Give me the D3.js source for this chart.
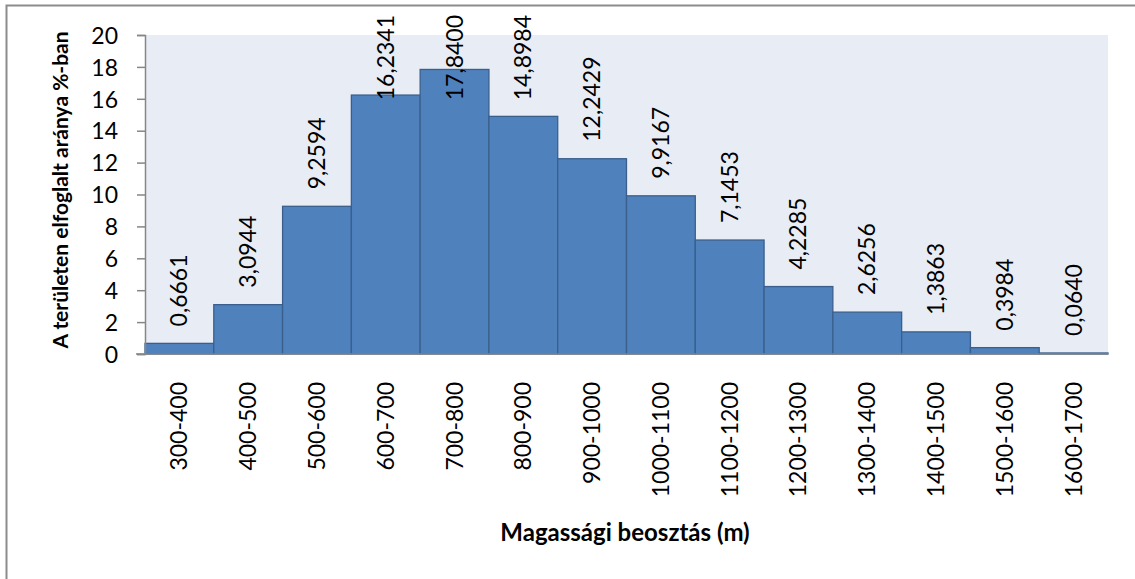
<html>

<head>
  <meta charset="utf-8">
  <title>magassagi beosztas</title>
</head>
<style>
  body { margin: 0; background: #fff; }
  text { font-family: Lato, "Open Sans", sans-serif; fill: #000; }
</style>

<body>
  <div id="chart"></div>
</body>
<script src="https://d3js.org/d3.v7.min.js"></script>
<script>

  // adatok
  const categories = ["300-400", "400-500", "500-600", "600-700", "700-800", "800-900", "900-1000",
    "1000-1100", "1100-1200", "1200-1300", "1300-1400", "1400-1500", "1500-1600", "1600-1700"]
  const values = [0.6661, 3.0944, 9.2594, 16.2341, 17.8400, 14.8984, 12.2429,
    9.9167, 7.1453, 4.2285, 2.6256, 1.3863, 0.3984, 0.0640]
  const yTicks = [0, 2, 4, 6, 8, 10, 12, 14, 16, 18, 20]

  const width = 1135
  const height = 579
  const plot = { left: 145, right: 1108, top: 35, bottom: 354 }
  const fs = 23

  const svg = d3.select("#chart")
    .append("svg")
    .attr("width", width)
    .attr("height", height)

  // keret
  svg.append("rect")
    .attr("x", 6.5).attr("y", 5.5)
    .attr("width", width).attr("height", height)
    .attr("fill", "#fff")
    .attr("stroke", "#8c8c8c")
    .attr("stroke-width", 2)

  const x = d3.scaleBand()
    .domain(categories)
    .range([plot.left, plot.right])
    .padding(0)

  const y = d3.scaleLinear()
    .domain([0, 20])
    .range([plot.bottom, plot.top])

  svg.append("rect")
    .attr("x", plot.left).attr("y", plot.top)
    .attr("width", plot.right - plot.left)
    .attr("height", plot.bottom - plot.top)
    .attr("fill", "#e8ecf4")

  // oszlopok
  svg.append("g")
    .selectAll("rect")
    .data(values)
    .enter().append("rect")
    .attr("x", (d, i) => x(categories[i]))
    .attr("y", d => y(d))
    .attr("width", x.bandwidth())
    .attr("height", d => y(0) - y(d))
    .attr("fill", "#4f81bd")
    .attr("stroke", "#3a5f8c")
    .attr("stroke-width", 1.3)

  // tengelyek
  const yAxis = svg.append("g")
    .attr("transform", `translate(${plot.left},0)`)
    .call(d3.axisLeft(y).tickValues(yTicks).tickSize(8).tickPadding(19))
  yAxis.select(".domain").attr("stroke", "#868686").attr("stroke-width", 1.5)
  yAxis.selectAll(".tick line").attr("stroke", "#868686").attr("stroke-width", 1.5)
  yAxis.selectAll(".tick text")
    .attr("font-size", fs).attr("font-family", "Lato").attr("fill", "#000")
    .attr("dy", "0.36em")

  svg.append("line")
    .attr("x1", plot.left - 9).attr("x2", plot.right)
    .attr("y1", plot.bottom).attr("y2", plot.bottom)
    .attr("stroke", "#868686").attr("stroke-width", 1.5)

  // kategoria feliratok
  svg.append("g")
    .selectAll("text")
    .data(categories)
    .enter().append("text")
    .attr("transform", d => `translate(${x(d) + x.bandwidth() / 2 + 8},382) rotate(-90)`)
    .attr("text-anchor", "end")
    .attr("font-size", fs)
    .text(d => d)

  // ertek feliratok
  const fmt = v => d3.format(".4f")(v).replace(".", ",")
  svg.append("g")
    .selectAll("text")
    .data(values)
    .enter().append("text")
    .attr("text-anchor", "start")
    .attr("font-size", fs)
    .text(d => fmt(d))
    .each(function (d, i) {
      const len = this.getComputedTextLength()
      const start = Math.max(y(d) - 17, 15 + len)
      const cx = x(categories[i]) + x.bandwidth() / 2 + 8
      d3.select(this).attr("transform", `translate(${cx},${start}) rotate(-90)`)
    })

  // cimek
  svg.append("text")
    .attr("x", 625).attr("y", 541)
    .attr("text-anchor", "middle")
    .attr("font-size", 24)
    .attr("font-weight", "bold")
    .text("Magassági beosztás (m)")

  svg.append("text")
    .attr("transform", "translate(68,190) rotate(-90)")
    .attr("text-anchor", "middle")
    .attr("font-size", 21)
    .attr("font-weight", "bold")
    .text("A területen elfoglalt aránya %-ban")

</script>

</html>
